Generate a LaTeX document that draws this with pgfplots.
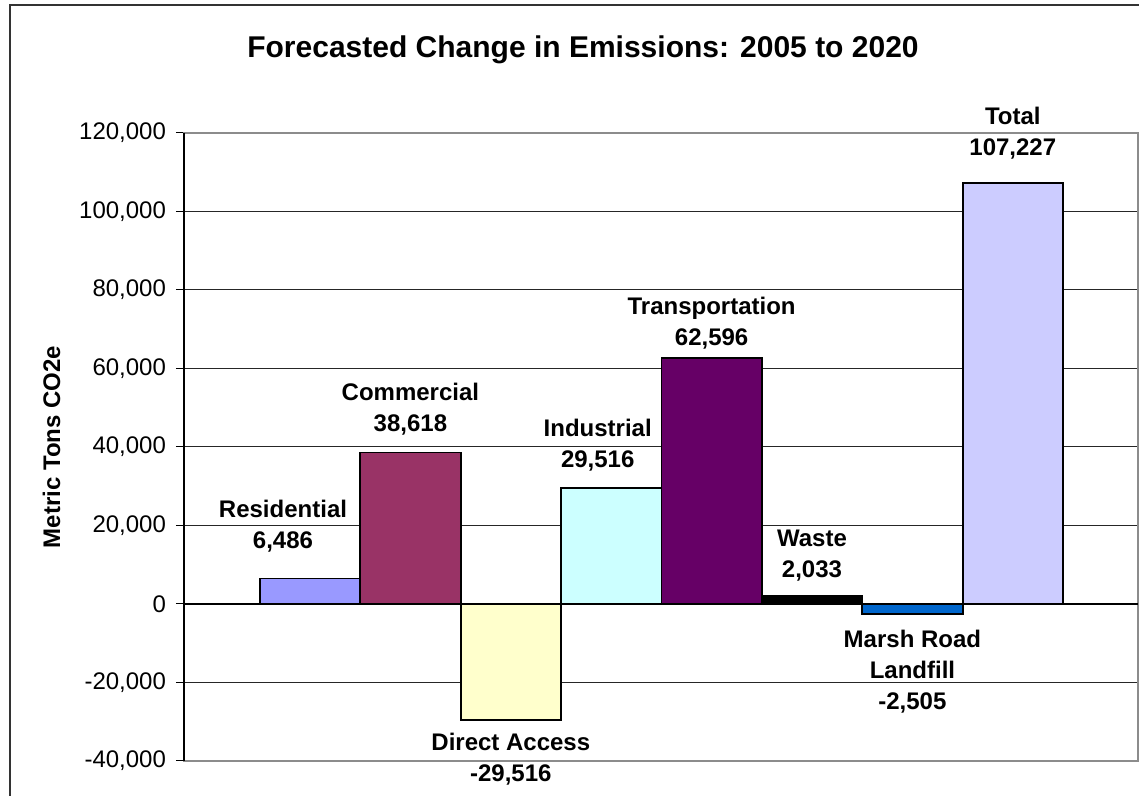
\documentclass[border=0pt]{standalone}
\usepackage{pgfplots}
\pgfplotsset{compat=1.18}
\usepackage{fontspec}
\setmainfont{Liberation Sans}
\definecolor{cRes}{HTML}{9999FF}
\definecolor{cCom}{HTML}{993366}
\definecolor{cDir}{HTML}{FFFFCC}
\definecolor{cInd}{HTML}{CCFFFF}
\definecolor{cTra}{HTML}{660066}
\definecolor{cWas}{HTML}{000000}
\definecolor{cMar}{HTML}{0066CC}
\definecolor{cTot}{HTML}{CCCCFF}
\newcommand{\lblfont}{\fontsize{12}{15.5}\selectfont\bfseries}
\begin{document}
\begin{tikzpicture}
\useasboundingbox (0,0) rectangle (569.5pt,398pt);
\clip (0,0) rectangle (569.5pt,398pt);
\draw[black!80, line width=1pt] (5pt,-20pt) -- (5pt,395.5pt) -- (620pt,395.5pt);
\node[font=\fontsize{15}{17}\selectfont\bfseries] at (291.5pt,373pt) {Forecasted Change in Emissions: 2005 to 2020};
\begin{axis}[
  scale only axis,
  width=477pt, height=314pt,
  at={(92pt,17.5pt)}, anchor=south west,
  xmin=-1.255, xmax=8.247,
  ymin=-40000, ymax=120000,
  ytick={-40000,-20000,...,120000},
  xtick=\empty,
  ytick pos=left,
  tick align=outside,
  major tick length=4pt,
  tick style={black, line width=0.5pt},
  ymajorgrids,
  grid style={black!85, line width=0.5pt},
  axis line style={black!45, line width=0.8pt},
  /pgf/number format/assume math mode=true,
  yticklabel style={font=\fontsize{12}{14}\selectfont, xshift=-1.5pt, /pgf/number format/.cd, fixed, 1000 sep={,}},
  scaled y ticks=false,
  ylabel={Metric Tons CO2e},
  every axis y label/.style={at={(axis description cs:-0.1389,0.5)}, rotate=90, anchor=center, font=\fontsize{12}{14}\selectfont\bfseries},
  ybar, bar width=1, bar shift=0pt,
  clip=false,
  every node near coord/.append style={font=\lblfont, align=center, inner sep=0pt},
]
\addplot[fill=cRes, draw=black, line width=0.9pt, bar shift=0pt,
  nodes near coords={Residential\\6,486},
  nodes near coords style={anchor=center, yshift=26pt, xshift=-13.5pt}]
  coordinates {(0,6486)};
\addplot[fill=cCom, draw=black, line width=0.9pt, bar shift=0pt,
  nodes near coords={Commercial\\38,618},
  nodes near coords style={anchor=center, yshift=21.5pt}]
  coordinates {(1,38618)};
\addplot[fill=cDir, draw=black, line width=0.9pt, bar shift=0pt,
  nodes near coords={Direct Access\\-29,516},
  nodes near coords style={anchor=center, yshift=-19.5pt}]
  coordinates {(2,-29516)};
\addplot[fill=cInd, draw=black, line width=0.9pt, bar shift=0pt,
  nodes near coords={Industrial\\29,516},
  nodes near coords style={anchor=center, yshift=21.5pt, xshift=-6.75pt}]
  coordinates {(3,29516)};
\addplot[fill=cTra, draw=black, line width=0.9pt, bar shift=0pt,
  nodes near coords={Transportation\\62,596},
  nodes near coords style={anchor=center, yshift=17.5pt}]
  coordinates {(4,62596)};
\addplot[fill=cWas, draw=black, line width=0.9pt, bar shift=0pt,
  nodes near coords={Waste\\2,033},
  nodes near coords style={anchor=center, yshift=20.25pt}]
  coordinates {(5,2033)};
\addplot[fill=cMar, draw=black, line width=0.9pt, bar shift=0pt,
  nodes near coords={Marsh Road\\Landfill\\-2,505},
  nodes near coords style={anchor=center, yshift=-29pt}]
  coordinates {(6,-2505)};
\addplot[fill=cTot, draw=black, line width=0.9pt, bar shift=0pt,
  nodes near coords={Total\\107,227},
  nodes near coords style={anchor=center, yshift=24.75pt}]
  coordinates {(7,107227)};
\draw[black, line width=0.6pt] (rel axis cs:0,0) -- (rel axis cs:0,1);
\draw[black, line width=0.6pt] (axis cs:-1.255,0) -- (axis cs:8.247,0);
\end{axis}
\end{tikzpicture}
\end{document}
